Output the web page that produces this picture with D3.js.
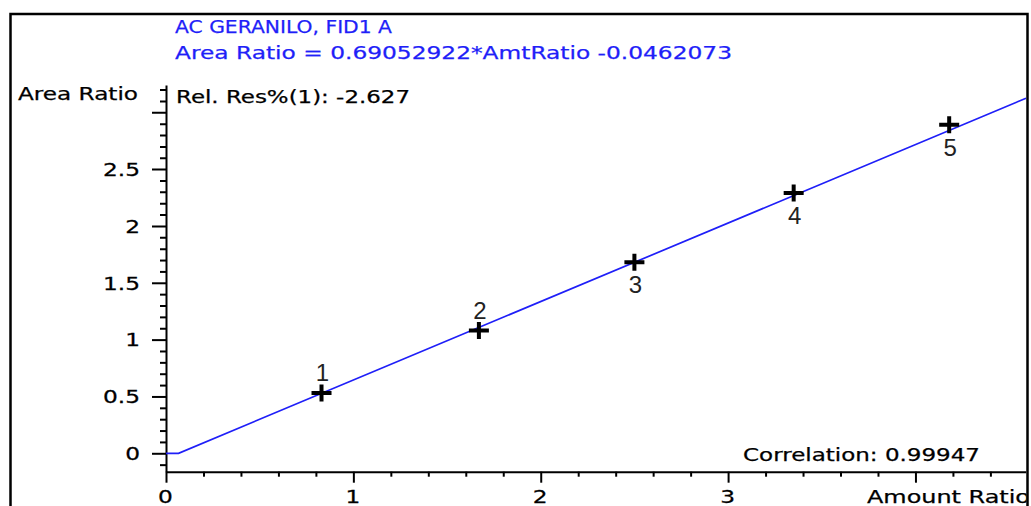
<!DOCTYPE html>
<html>
<head>
<meta charset="utf-8">
<script src="https://cdn.jsdelivr.net/npm/d3@7"></script>
<style>
  html, body { margin: 0; padding: 0; background: #fff; }
  svg { display: block; }
</style>
</head>
<body>
<div id="viz"></div>
<script>
// calibration levels
const amtRatio = [0.83, 1.67, 2.50, 3.35, 4.18];
const areaRatio = [0.53, 1.08, 1.68, 2.29, 2.89];
const levelNames = ['1', '2', '3', '4', '5'];
const labelSide = ['above', 'above', 'below', 'below', 'below'];

const xMajorTicks = [0, 1, 2, 3, 4];
const xTickLabels = ['0', '1', '2', '3', ''];
const yMajorTicks = [0, 0.5, 1, 1.5, 2, 2.5, 3];
const yTickLabels = ['0', '0.5', '1', '1.5', '2', '2.5', ''];

const fitSlope = 0.69052922;
const fitIntercept = -0.0462073;

const titleText = 'AC GERANILO, FID1 A';
const formulaText = 'Area Ratio = 0.69052922*AmtRatio -0.0462073';
const relResText = 'Rel. Res%(1): -2.627';
const correlationText = 'Correlation: 0.99947';
const xTitle = 'Amount Ratio';
const yTitle = 'Area Ratio';

const width = 1031;
const height = 506;
const font = '"DejaVu Sans", sans-serif';
const stretch = 1.37;

const svg = d3.select('#viz')
      .append('svg')
      .attr('width', width)
      .attr('height', height);

const x = d3.scaleLinear()
      .domain([0, 4.59])
      .range([166, 1026]);

const y = d3.scaleLinear()
      .domain([-0.162, 3.24])
      .range([471.7, 85]);

svg.append('clipPath')
  .attr('id', 'frameClip')
  .append('rect')
  .attr('x', 11).attr('y', 14)
  .attr('width', 1015.5).attr('height', height);

const plot = svg.append('g').attr('clip-path', 'url(#frameClip)');

// minor ticks first, majors on top
const xMinor = d3.range(0, 4.6, 0.2).filter(v => Math.abs(v - Math.round(v)) > 1e-6);
const yMinor = d3.range(-0.1, 3.25, 0.1).filter(v => Math.abs(v * 2 - Math.round(v * 2)) > 1e-6);

const xAxisY = y.range()[0];
const yAxisX = x.range()[0];

plot.append('g')
  .attr('transform', `translate(0,${xAxisY})`)
  .call(d3.axisBottom(x).tickValues(xMinor).tickSize(5).tickSizeOuter(0).tickFormat(''))
  .call(g => g.select('.domain').remove());

plot.append('g')
  .attr('transform', `translate(${yAxisX},0)`)
  .call(d3.axisLeft(y).tickValues(yMinor).tickSize(6).tickSizeOuter(0).tickFormat(''))
  .call(g => g.select('.domain').remove());

const xAxis = plot.append('g')
  .attr('transform', `translate(0,${xAxisY})`)
  .call(d3.axisBottom(x)
    .tickValues(xMajorTicks)
    .tickSize(11)
    .tickSizeOuter(0)
    .tickFormat((d, i) => xTickLabels[i]));

xAxis.selectAll('text')
  .attr('y', null)
  .attr('dy', null)
  .attr('transform', `translate(-1,31) scale(${stretch},1)`);

const yAxis = plot.append('g')
  .attr('transform', `translate(${yAxisX},0)`)
  .call(d3.axisLeft(y)
    .tickValues(yMajorTicks)
    .tickSize(14)
    .tickSizeOuter(0)
    .tickFormat((d, i) => yTickLabels[i]));

yAxis.selectAll('text')
  .attr('x', null)
  .attr('dy', '0.37em')
  .attr('transform', `translate(-26,0) scale(${stretch},1)`);

plot.selectAll('.tick line, .domain')
  .attr('stroke', '#000')
  .attr('stroke-width', 2);

plot.selectAll('.tick text')
  .attr('fill', '#000')
  .attr('stroke', '#000')
  .attr('stroke-width', 0.25)
  .style('font-family', font)
  .style('font-size', '17px');

// fitted line, not drawn below zero
const xRoot = -fitIntercept / fitSlope;
const fitLine = d3.line()
  .x(d => x(d))
  .y(d => y(Math.max(0, fitSlope * d + fitIntercept)));

plot.append('path')
  .datum([0, xRoot, x.domain()[1]])
  .attr('d', fitLine)
  .attr('fill', 'none')
  .attr('stroke', '#1f1ff8')
  .attr('stroke-width', 1.7);

const points = plot.selectAll('.level')
  .data(amtRatio.map((a, i) => ({a, r: areaRatio[i], name: levelNames[i], side: labelSide[i]})))
  .enter()
  .append('g')
  .attr('class', 'level')
  .attr('transform', d => `translate(${x(d.a)},${y(d.r)})`);

points.append('path')
  .attr('d', 'M-10,0H10M0,-8.5V8.5')
  .attr('stroke', '#000')
  .attr('stroke-width', 4);

points.append('text')
  .attr('x', 1)
  .attr('y', d => d.side === 'above' ? -12 : 31)
  .attr('text-anchor', 'middle')
  .attr('fill', '#222')
  .style('font-family', '"Liberation Sans", Arial, sans-serif')
  .style('font-size', '24px')
  .text(d => d.name);

// free text: [string, x, baseline, width, colour]
const notes = [
  [titleText, 175, 33, 217, '#1f1ff8'],
  [formulaText, 175, 58.5, 557, '#1f1ff8'],
  [yTitle, 18, 100, 120, '#000'],
  [relResText, 176, 103, 234, '#000'],
  [correlationText, 743, 460.5, 237, '#000'],
  [xTitle, 867, 503, 163, '#000']
];

plot.selectAll('.note')
  .data(notes)
  .enter()
  .append('text')
  .attr('class', 'note')
  .attr('x', d => d[1])
  .attr('y', d => d[2])
  .attr('textLength', d => d[3])
  .attr('lengthAdjust', 'spacingAndGlyphs')
  .attr('fill', d => d[4])
  .attr('stroke', d => d[4])
  .attr('stroke-width', 0.25)
  .style('font-family', font)
  .style('font-size', '17px')
  .text(d => d[0]);

// window frame: left, top and right edges
svg.append('path')
  .attr('d', `M10.5,${height}V14H1027.5V${height}`)
  .attr('fill', 'none')
  .attr('stroke', '#000')
  .attr('stroke-width', 2.5);
</script>
</body>
</html>
